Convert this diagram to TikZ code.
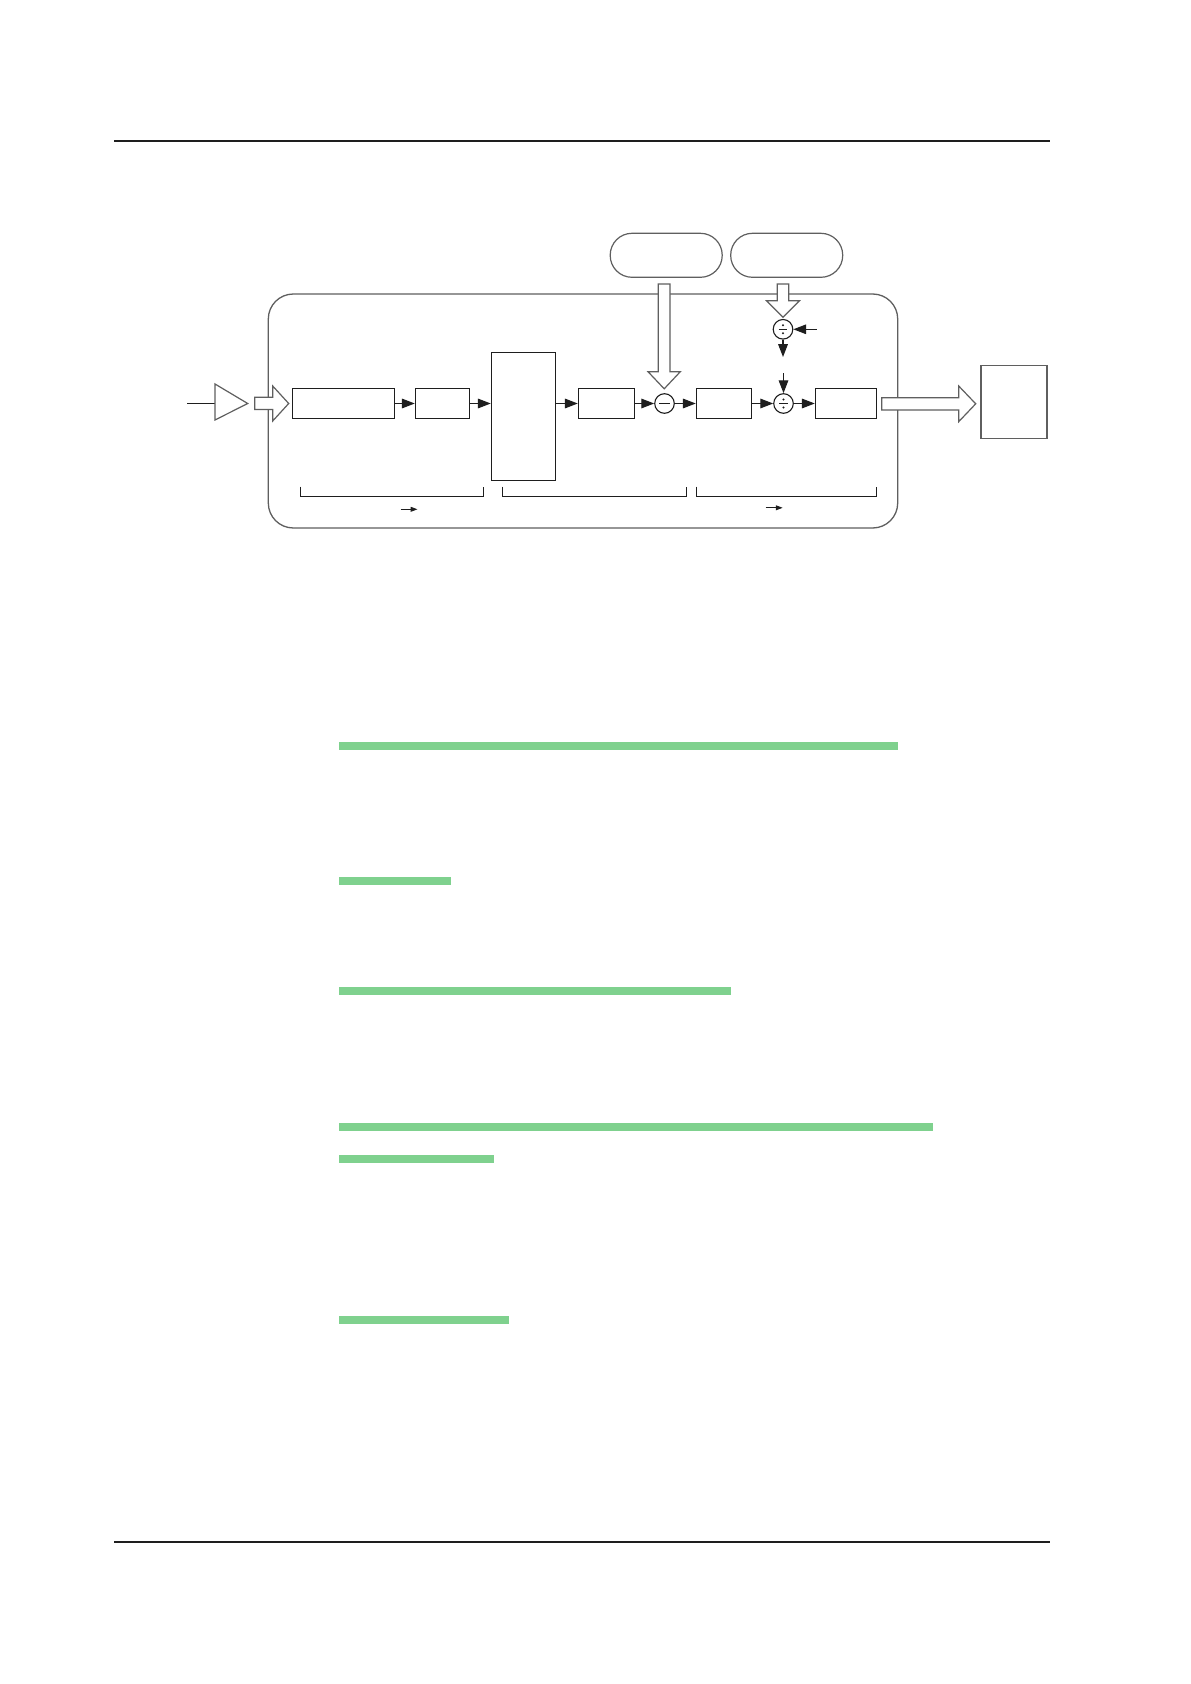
\documentclass[tikz,border=0pt]{standalone}
\usetikzlibrary{arrows.meta}
\definecolor{barg}{RGB}{127,209,142}
\definecolor{ink}{RGB}{30,30,30}
\definecolor{frame}{RGB}{95,95,95}
\tikzset{
  blk/.style={draw=ink, line width=0.55pt, fill=white, inner sep=0pt, minimum height=14.75pt},
  gbox/.style={draw=frame, line width=0.6pt, fill=white, inner sep=0pt},
  pill/.style={draw=frame, line width=0.6pt, inner sep=0pt, minimum width=56pt, minimum height=22pt, rounded corners=10.9pt},
  opcirc/.style={circle, draw=ink, line width=0.55pt, inner sep=0pt, minimum size=9.8pt},
  arr/.style={draw=ink, line width=0.55pt, -{Triangle[length=6.4pt,width=4.8pt]}},
  smallarr/.style={draw=ink, line width=0.5pt, -{Triangle[length=3.4pt,width=2.4pt]}},
  hollow/.style={draw=frame, line width=0.6pt, fill=white, line join=miter},
  brk/.style={draw=ink, line width=0.55pt},
  rule/.style={draw=ink, line width=0.65pt},
  gbar/.style={fill=barg, draw=none}
}
\begin{document}
\begin{tikzpicture}[x=0.5pt,y=-0.5pt]
\useasboundingbox (0,0) rectangle (1190,1684);
\fill[white] (0,0) rectangle (1190,1684);

% page rules
\draw[rule] (114,141) -- (1050,141);
\draw[rule] (114,1542) -- (1050,1542);

% outer rounded frame
\draw[draw=frame, line width=0.65pt, rounded corners=12.5pt] (268.3,294) rectangle (897.7,528);

% input line and amplifier
\coordinate (inL) at (187,403.5);
\coordinate (ampin) at (215,403.5);
\draw[draw=ink, line width=0.55pt] (inL) -- (ampin);
\draw[hollow] (215,384) -- (247.7,403.5) -- (215,420) -- cycle;

% input hollow block arrow
\draw[hollow] (254.7,397.2) -- (272.7,397.2) -- (272.7,386) -- (288.7,403.5) -- (272.7,421) -- (272.7,409.5) -- (254.7,409.5) -- cycle;

% blocks
\node[blk, minimum width=51pt] (b1) at (343.3,403.5) {};
\node[blk, minimum width=27pt] (b2) at (442.3,403.5) {};
\node[blk, minimum width=32pt, minimum height=64pt] (b3) at (523.3,416.3) {};
\node[blk, minimum width=28pt] (b4) at (606.3,403.5) {};
\node[blk, minimum width=27.7pt] (b5) at (724,403.5) {};
\node[blk, minimum width=30.5pt] (b6) at (845.8,403.5) {};

% operator circles
\node[opcirc] (minus) at (664.5,403.5) {};
\node[opcirc] (div2) at (783.5,403.5) {};
\node[opcirc] (div1) at (783,329.3) {};
\draw[draw=ink, line width=0.6pt, shift={(minus.center)}] (-5.4,0) -- (5.4,0);
\foreach \c in {div1,div2}{
  \draw[draw=ink, line width=0.55pt, shift={(\c.center)}] (-4.4,0) -- (4.4,0);
  \fill[ink, shift={(\c.center)}] (0,-4) circle (1.15) (0,4) circle (1.15);
}

% pills
\node[pill] (p1) at (666.2,255.3) {};
\node[pill] (p2) at (786.7,255.3) {};

% hollow down arrows
\draw[hollow] (658.3,284) -- (670,284) -- (670,371.7) -- (680.3,371.7) -- (664.2,388.8) -- (648,371.7) -- (658.3,371.7) -- cycle;
\draw[hollow] (777.2,284) -- (788.8,284) -- (788.8,300.7) -- (799.5,300.7) -- (783,317.3) -- (766.5,300.7) -- (777.2,300.7) -- cycle;

% output hollow block arrow and target box
\draw[hollow] (881.7,397.7) -- (958.7,397.7) -- (958.7,386) -- (975.7,403.8) -- (958.7,421.7) -- (958.7,410) -- (881.7,410) -- cycle;
\node[gbox, minimum width=33pt, minimum height=36.7pt] (tgt) at (1014,402) {};

% connectors
\draw[arr] (b1.east) -- (b2.west);
\draw[arr] (b2.east) -- (b2.east -| b3.west);
\draw[arr] (b3.east |- b4.west) -- (b4.west);
\draw[arr] (b4.east) -- (minus.west);
\draw[arr] (minus.east) -- (b5.west);
\draw[arr] (b5.east) -- (div2.west);
\draw[arr] (div2.east) -- (b6.west);
\coordinate (sideIn) at (816.7,329.3);
\draw[arr] (sideIn) -- (div1.east);
\coordinate (midOut) at (783,357);
\draw[arr] (div1.south) -- (midOut);
\coordinate (midIn) at (783.5,373.3);
\draw[arr] (midIn) -- (div2.north);

% brackets
\draw[brk] (300.3,486.7) -- (300.3,496.3) -- (483.3,496.3) -- (483.3,486.7);
\draw[brk] (502.3,486.7) -- (502.3,496.3) -- (686.3,496.3) -- (686.3,486.7);
\draw[brk] (696.3,486.7) -- (696.3,496.3) -- (876.3,496.3) -- (876.3,486.7);
\coordinate (s1a) at (400.7,509.3);
\coordinate (s1b) at (417.5,509.3);
\draw[smallarr] (s1a) -- (s1b);
\coordinate (s3a) at (765.7,507.8);
\coordinate (s3b) at (782.7,507.8);
\draw[smallarr] (s3a) -- (s3b);

% green bars
\fill[gbar] (339.4,742) rectangle (897.9,749.7);
\fill[gbar] (339.4,877) rectangle (451,884.7);
\fill[gbar] (339.4,987) rectangle (730.8,994.7);
\fill[gbar] (339.4,1123) rectangle (932.5,1130.7);
\fill[gbar] (339.4,1155) rectangle (493.5,1162.7);
\fill[gbar] (339.4,1316) rectangle (508.5,1323.7);
\end{tikzpicture}
\end{document}
